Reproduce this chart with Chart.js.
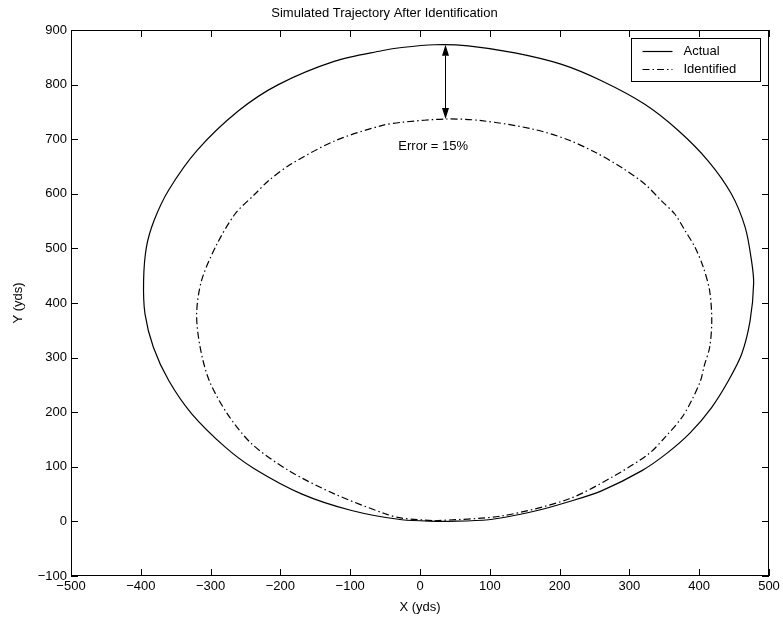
<!DOCTYPE html>
<html>
<head>
<meta charset="utf-8">
<title>Simulated Trajectory After Identification</title>
<script src="https://cdn.jsdelivr.net/npm/chart.js@4.4.1/dist/chart.umd.min.js"></script>
<style>
  html, body { margin: 0; padding: 0; background: #fff; }
  #wrap { width: 783px; height: 620px; }
</style>
</head>
<body>
<div id="wrap"><canvas id="traj" width="783" height="620"></canvas></div>
<script>
// actual trajectory (yds), traced anticlockwise from the bottom
const actualX = [31, 98, 165, 213, 260, 318, 354, 387, 418, 442, 461, 473, 478, 475, 466, 446, 413, 370, 322, 260, 203, 136, 69, 21, -26, -55, -122, -203, -260, -319, -360, -381, -392, -396, -394, -382, -360, -327, -279, -238, -169, -98, -26, 31];
const actualY = [0, 3, 19, 36, 56, 93, 125, 162, 209, 258, 307, 368, 436, 477, 538, 600, 660, 716, 764, 807, 837, 858, 871, 873, 868, 862, 843, 800, 752, 680, 607, 551, 502, 441, 380, 319, 258, 197, 136, 97, 50, 20, 3, 0];

// identified trajectory (yds)
const identX = [21, 117, 213, 275, 327, 351, 375, 389, 402, 407, 415, 418, 415, 406, 394, 380, 365, 346, 322, 289, 251, 210, 160, 88, 38, -26, -55, -122, -184, -217, -236, -265, -292, -313, -320, -315, -302, -276, -241, -188, -122, -50, -26, 21];
const identY = [1, 10, 41, 81, 123, 154, 190, 221, 258, 284, 319, 368, 422, 465, 502, 532, 563, 587, 618, 648, 676, 700, 719, 734, 737, 731, 725, 697, 655, 624, 600, 563, 505, 441, 380, 319, 258, 197, 142, 93, 50, 14, 6, 1];

const xTicks = [-500, -400, -300, -200, -100, 0, 100, 200, 300, 400, 500];
const yTicks = [-100, 0, 100, 200, 300, 400, 500, 600, 700, 800, 900];

// error marker between the two apexes
const errorArrowX = 36;
const errorArrowY = [873, 737];
const errorLabel = 'Error = 15%';
const errorLabelAt = [-31, 686];

const FONT = 'Liberation Sans, Arial, Helvetica, sans-serif';

function toPoints(xs, ys) {
    return xs.map((x, i) => ({ x: x, y: ys[i] }));
}

const minus = v => String(v).replace('-', '\u2212');

// box round the axes with inward tick marks on all four sides
const framePlugin = {
    id: 'frame',
    afterDatasetsDraw(chart) {
        const { ctx, chartArea: a, scales: { x, y } } = chart;
        const len = 7;
        ctx.save();
        ctx.strokeStyle = '#000';
        ctx.lineWidth = 1;
        ctx.beginPath();
        x.ticks.forEach(t => {
            const px = Math.round(x.getPixelForValue(t.value)) + 0.5;
            ctx.moveTo(px, a.bottom); ctx.lineTo(px, a.bottom - len);
            ctx.moveTo(px, a.top); ctx.lineTo(px, a.top + len);
        });
        y.ticks.forEach(t => {
            const py = Math.round(y.getPixelForValue(t.value)) + 0.5;
            ctx.moveTo(a.left, py); ctx.lineTo(a.left + len, py);
            ctx.moveTo(a.right, py); ctx.lineTo(a.right - len, py);
        });
        ctx.stroke();
        ctx.strokeRect(Math.round(a.left) + 0.5, Math.round(a.top) + 0.5,
            Math.round(a.width) - 1, Math.round(a.height) - 1);
        ctx.restore();
    }
};

// double arrow and note for the apex error
const errorPlugin = {
    id: 'errorNote',
    afterDatasetsDraw(chart) {
        const { ctx, scales: { x, y } } = chart;
        const px = Math.round(x.getPixelForValue(errorArrowX)) + 0.5;
        const top = y.getPixelForValue(errorArrowY[0]);
        const bot = y.getPixelForValue(errorArrowY[1]);
        const head = 11, half = 3.5;
        ctx.save();
        ctx.strokeStyle = '#000';
        ctx.fillStyle = '#000';
        ctx.lineWidth = 1;
        ctx.beginPath();
        ctx.moveTo(px, top + head);
        ctx.lineTo(px, bot - head);
        ctx.stroke();
        ctx.beginPath();
        ctx.moveTo(px, top); ctx.lineTo(px - half, top + head); ctx.lineTo(px + half, top + head);
        ctx.closePath();
        ctx.moveTo(px, bot); ctx.lineTo(px - half, bot - head); ctx.lineTo(px + half, bot - head);
        ctx.closePath();
        ctx.fill();
        ctx.font = '13px ' + FONT;
        ctx.textAlign = 'left';
        ctx.textBaseline = 'middle';
        ctx.fillText(errorLabel, x.getPixelForValue(errorLabelAt[0]), y.getPixelForValue(errorLabelAt[1]));
        ctx.restore();
    }
};

// boxed legend in the upper right corner of the axes
const legendPlugin = {
    id: 'boxLegend',
    afterDraw(chart) {
        const { ctx, chartArea: a } = chart;
        const right = Math.round(a.right) - 8.5, top = Math.round(a.top) + 8.5;
        const w = 129, h = 43;
        const left = right - w;
        ctx.save();
        ctx.fillStyle = '#fff';
        ctx.fillRect(left, top, w, h);
        ctx.strokeStyle = '#000';
        ctx.lineWidth = 1;
        ctx.strokeRect(left, top, w, h);
        ctx.font = '13px ' + FONT;
        ctx.textAlign = 'left';
        ctx.textBaseline = 'middle';
        chart.data.datasets.forEach((ds, i) => {
            const ly = Math.round(top + 12 + i * 18) + 0.5;
            ctx.setLineDash(ds.borderDash || []);
            ctx.lineWidth = ds.borderWidth;
            ctx.beginPath();
            ctx.moveTo(left + 11, ly);
            ctx.lineTo(left + 41, ly);
            ctx.stroke();
            ctx.setLineDash([]);
            ctx.fillStyle = '#000';
            ctx.fillText(ds.label, left + 52, ly);
        });
        ctx.restore();
    }
};

new Chart(document.getElementById('traj'), {
    type: 'scatter',
    data: {
        datasets: [{
            label: 'Actual',
            data: toPoints(actualX, actualY),
            showLine: true,
            borderColor: '#000',
            borderWidth: 1.2,
            pointRadius: 0,
            tension: 0.3
        }, {
            label: 'Identified',
            data: toPoints(identX, identY),
            showLine: true,
            borderColor: '#000',
            borderWidth: 1.2,
            borderDash: [7, 3, 1.5, 3],
            pointRadius: 0,
            tension: 0.3
        }]
    },
    options: {
        responsive: false,
        animation: false,
        layout: { padding: { left: 0, right: 14, top: 0, bottom: 0 } },
        plugins: {
            legend: { display: false },
            tooltip: { enabled: false },
            title: {
                display: true,
                text: 'Simulated Trajectory After Identification',
                color: '#000',
                font: { family: FONT, size: 13, weight: 'normal', lineHeight: 1.2 },
                padding: { top: 6, bottom: 8.4 }
            }
        },
        scales: {
            x: {
                type: 'linear',
                min: xTicks[0],
                max: xTicks[xTicks.length - 1],
                afterBuildTicks: s => { s.ticks = xTicks.map(v => ({ value: v })); },
                afterFit: s => { s.height = 44; },
                grid: { display: false, drawTicks: false },
                border: { display: false },
                ticks: {
                    color: '#000',
                    padding: 3,
                    maxRotation: 0,
                    autoSkip: false,
                    font: { family: FONT, size: 13 },
                    callback: minus
                },
                title: {
                    display: true,
                    text: 'X (yds)',
                    color: '#000',
                    font: { family: FONT, size: 13, lineHeight: 1.2 },
                    padding: { top: 0, bottom: 5 }
                }
            },
            y: {
                type: 'linear',
                min: yTicks[0],
                max: yTicks[yTicks.length - 1],
                afterBuildTicks: s => { s.ticks = yTicks.map(v => ({ value: v })); },
                afterFit: s => { s.width = 71; },
                grid: { display: false, drawTicks: false },
                border: { display: false },
                ticks: {
                    color: '#000',
                    padding: 4,
                    autoSkip: false,
                    font: { family: FONT, size: 13 },
                    callback: minus
                },
                title: {
                    display: true,
                    text: 'Y (yds)',
                    color: '#000',
                    font: { family: FONT, size: 13, lineHeight: 1.2 },
                    padding: { top: 11, bottom: 0 }
                }
            }
        }
    },
    plugins: [framePlugin, errorPlugin, legendPlugin]
});
</script>
</body>
</html>
